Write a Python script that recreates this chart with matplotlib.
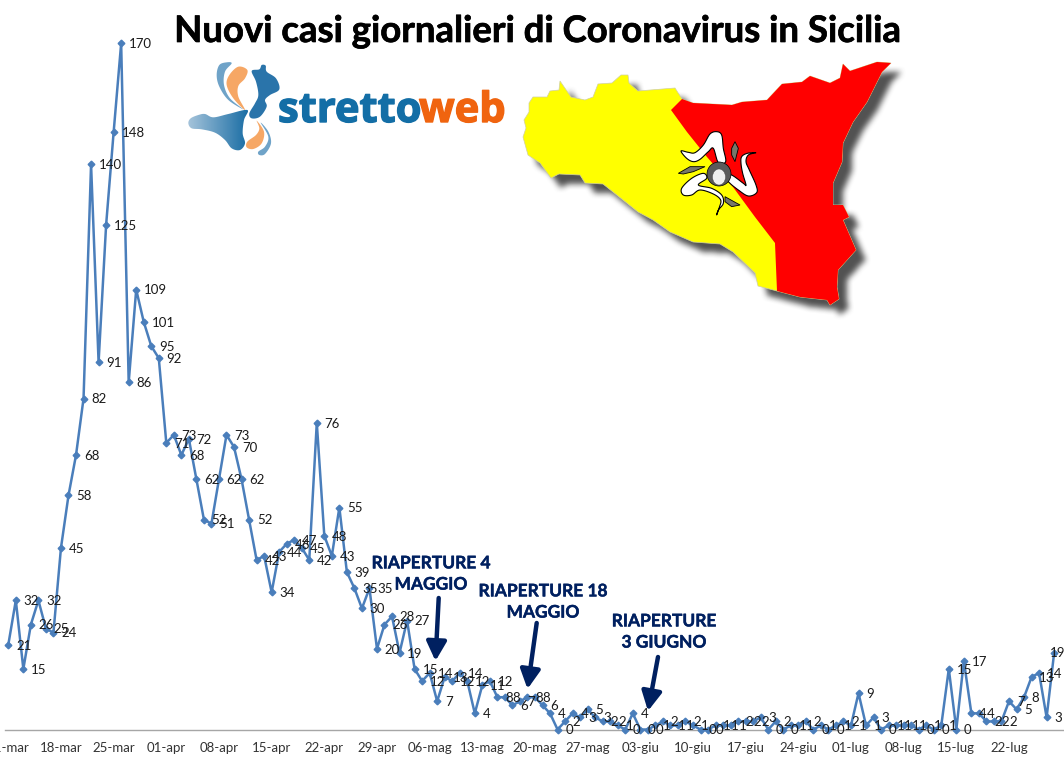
import numpy as np
import matplotlib as mpl
import matplotlib.pyplot as plt
import matplotlib.patheffects as pe
from matplotlib.patches import Polygon, Circle, Ellipse, FancyArrowPatch
from matplotlib.path import Path

mpl.rcParams['font.family'] = ['Lato', 'DejaVu Sans']

W, H = 1064, 762
LINE_COLOR = '#4a7ebb'
NAVY = '#002060'

# nuovi casi al giorno, dal 11-mar al 28-lug
cases = [21, 32, 15, 26, 32, 25, 24, 45, 58, 68, 82, 140, 91, 125, 148, 170, 86, 109, 101, 95,
         92, 71, 73, 68, 72, 62, 52, 51, 62, 73, 70, 62, 52, 42, 43, 34, 44, 46, 47, 45,
         42, 76, 48, 43, 55, 39, 35, 30, 35, 20, 26, 28, 19, 27, 15, 12, 14, 7, 13, 12,
         14, 12, 4, 11, 12, 8, 8, 6, 7, 8, 8, 6, 4, 0, 2, 4, 3, 5, 3, 2,
         2, 1, 0, 4, 0, 0, 1, 2, 1, 1, 2, 1, 0, 0, 1, 1, 1, 2, 2, 2,
         3, 0, 2, 0, 1, 1, 2, 0, 1, 0, 1, 2, 1, 9, 1, 3, 0, 1, 1, 1,
         1, 0, 1, 0, 1, 15, 0, 17, 4, 4, 2, 2, 2, 7, 5, 8, 13, 14, 3, 19]
tick_labels = ['11-mar', '18-mar', '25-mar', '01-apr', '08-apr', '15-apr', '22-apr', '29-apr',
               '06-mag', '13-mag', '20-mag', '27-mag', '03-giu', '10-giu', '17-giu', '24-giu',
               '01-lug', '08-lug', '15-lug', '22-lug']
reopenings = ['RIAPERTURE 4\nMAGGIO', 'RIAPERTURE 18\nMAGGIO', 'RIAPERTURE\n3 GIUGNO']

# map outline, in pixels of the picture
sicily = [(524, 120), (529, 112), (529, 103), (533, 97), (547, 97), (550, 91), (559, 90), (560, 81),
          (571, 97), (585, 100), (593, 97), (598, 84), (612, 83), (621, 75), (628, 75), (629, 83),
          (638, 91), (675, 88), (682, 99), (693, 103), (732, 105), (742, 102), (767, 100), (782, 84),
          (802, 82), (810, 76), (830, 83), (840, 78), (843, 64), (850, 71), (877, 62), (891, 63),
          (882, 72), (867, 102), (853, 122), (843, 143), (842, 162), (833, 183), (833, 205), (843, 205),
          (849, 217), (843, 220), (856, 250), (838, 270), (837, 287), (839, 299), (830, 305), (827, 300),
          (800, 297), (777, 291), (758, 286), (755, 273), (733, 252), (720, 244), (693, 242), (670, 232),
          (653, 220), (638, 212), (628, 204), (603, 184), (585, 183), (580, 175), (559, 174), (551, 178),
          (540, 163), (528, 155), (523, 137), (526, 128)]
sicily_red = [(682, 99), (693, 103), (732, 105), (742, 102), (767, 100), (782, 84),
              (802, 82), (810, 76), (830, 83), (840, 78), (843, 64), (850, 71), (877, 62), (891, 63),
              (882, 72), (867, 102), (853, 122), (843, 143), (842, 162), (833, 183), (833, 205), (843, 205),
              (849, 217), (843, 220), (856, 250), (838, 270), (837, 287), (839, 299), (830, 305), (827, 300),
              (800, 297), (777, 291), (775, 243), (755, 217), (733, 187), (707, 157), (687, 132), (671, 110)]

# triskelion, measured on a 3x crop with corner at (660, 120)
leg_top = [(63, 93), (85, 97), (105, 98), (130, 75), (150, 42), (170, 35), (185, 45), (190, 85), (197, 125),
           (175, 128), (160, 85), (145, 95), (120, 118), (100, 125), (80, 115)]
leg_right = [(288, 98), (265, 105), (258, 125), (268, 150), (288, 195), (290, 218), (265, 228), (235, 210),
             (205, 185), (195, 165), (215, 165), (250, 190), (258, 195), (248, 160), (243, 130), (245, 110),
             (262, 100)]
leg_left = [(170, 285), (178, 262), (182, 240), (160, 222), (120, 210), (95, 225), (70, 225), (65, 205),
            (95, 175), (130, 160), (140, 175), (115, 195), (155, 205), (185, 225), (190, 250), (175, 270)]
ear_left = [(55, 160), (90, 140), (135, 140), (100, 155), (70, 162)]
ear_top = [(215, 85), (225, 65), (235, 85), (225, 125), (215, 105)]
ear_bottom = [(195, 230), (240, 255), (215, 260), (195, 245)]

# logo, measured on a 3x crop with corner at (170, 0)
logo_island = [(55, 370), (62, 355), (85, 345), (105, 342), (130, 352), (175, 342), (232, 330), (222, 360),
               (218, 400), (225, 430), (210, 450), (185, 445), (165, 420), (135, 398), (95, 388), (65, 385)]
logo_calabria = [(245, 213), (268, 208), (275, 195), (287, 197), (290, 215), (318, 235), (328, 268), (300, 285),
                 (285, 300), (290, 320), (270, 350), (245, 355), (238, 340), (255, 310), (265, 285), (258, 245)]
logo_orange_top = [(178, 225), (205, 200), (232, 210), (225, 235), (205, 258), (205, 290), (225, 330),
                   (190, 295), (170, 255)]
logo_blue_top = [(148, 195), (170, 187), (185, 190), (165, 215), (162, 255), (180, 295), (220, 328),
                 (175, 300), (148, 260), (140, 225)]
logo_orange_low = [(260, 362), (282, 395), (275, 430), (250, 447), (230, 442), (232, 425), (258, 405), (268, 385)]
logo_blue_low = [(272, 368), (295, 395), (303, 430), (285, 462), (268, 465), (265, 455), (285, 440), (295, 410)]


def from_crop(points, corner):
    return np.array(points) / 3.0 + np.array(corner)


def smooth(points, n=8):
    # closed Catmull-Rom through the outline points
    p = np.asarray(points, dtype=float)
    out = []
    for i in range(len(p)):
        p0, p1, p2, p3 = p[i - 1], p[i], p[(i + 1) % len(p)], p[(i + 2) % len(p)]
        for t in np.linspace(0, 1, n, endpoint=False):
            out.append(0.5 * (2 * p1 + (p2 - p0) * t + (2 * p0 - 5 * p1 + 4 * p2 - p3) * t ** 2
                              + (3 * p1 - p0 - 3 * p2 + p3) * t ** 3))
    return np.array(out)


def box_blur(mask, r):
    kernel = np.ones(2 * r + 1) / (2 * r + 1)
    for _ in range(2):
        mask = np.apply_along_axis(np.convolve, 0, mask, kernel, mode='same')
        mask = np.apply_along_axis(np.convolve, 1, mask, kernel, mode='same')
    return mask


fig = plt.figure(figsize=(W / 100, H / 100), dpi=100)
fig.patch.set_facecolor('white')

# axes fill the figure, limits chosen so the scale falls where it does in the picture
ax = fig.add_axes([0, 0, 1, 1])
px_per_day = 7.524
px_per_case = 4.036
ax.set_xlim(-8.3 / px_per_day, (W - 8.3) / px_per_day)
ax.set_ylim((729.5 - H) / px_per_case, 729.5 / px_per_case)

days = np.arange(len(cases))
ax.plot(days, cases, color=LINE_COLOR, lw=1.8, marker='D', ms=3.4, mec=LINE_COLOR, zorder=3)

for day, value in zip(days, cases):
    dx = 5.6
    dy = -0.6
    if day == days[-1]:
        dx = -3
        dy = 0
    ax.annotate(str(value), (day, value), xytext=(dx, dy), textcoords='offset points',
                ha='left', va='center', fontsize=9.5, color='#1a1a1a', zorder=4)

for side in ['top', 'left', 'right']:
    ax.spines[side].set_visible(False)
ax.spines['bottom'].set_position(('data', 0))
ax.spines['bottom'].set_color('#a6a6a6')
ax.spines['bottom'].set_linewidth(1.0)
ax.spines['bottom'].set_bounds(-0.4, 141)
ax.set_yticks([])
ax.set_xticks(days[::7])
ax.set_xticklabels(tick_labels, fontsize=9.5, color='#333333')
ax.tick_params(axis='x', length=0, pad=9)

# overlay in picture pixels for map, logo and notes
top = fig.add_axes([0, 0, 1, 1], zorder=5)
top.axis('off')

# soft shadow under the map
xs, ys = np.meshgrid(np.arange(505, 925), np.arange(45, 335))
grid = np.column_stack([xs.ravel(), ys.ravel()])
mask = Path(np.array(sicily) + 9).contains_points(grid).reshape(xs.shape).astype(float)
mask = box_blur(mask, 3)
shadow = np.zeros(mask.shape + (4,))
shadow[..., :3] = 0.2
shadow[..., 3] = mask * 0.85
top.imshow(shadow, extent=(505, 925, 335, 45), interpolation='bilinear', aspect='auto', zorder=1)

top.add_patch(Polygon(sicily, closed=True, fc='#ffff00', ec='#d0d0a0', lw=0.5, zorder=2))
top.add_patch(Polygon(sicily_red, closed=True, fc='#ff0000', ec='none', zorder=2))

corner = (660, 120)
for ear in [ear_left, ear_top, ear_bottom]:
    top.add_patch(Polygon(from_crop(ear, corner), closed=True, fc='#77776a', ec='black', lw=0.6, zorder=3))
for leg in [leg_top, leg_right, leg_left]:
    top.add_patch(Polygon(smooth(from_crop(leg, corner)), closed=True, fc='white', ec='black', lw=0.8, zorder=3))
top.add_patch(Circle((719, 174), 12, fc='#5a5a5a', ec='black', lw=0.5, zorder=3))
top.add_patch(Ellipse((719, 177), 13, 16, fc='#efefef', ec='#444444', lw=0.3, zorder=3))

# logo
corner = (170, 0)
gradient = np.linspace(0, 1, 64).reshape(1, -1)
blues = mpl.colors.LinearSegmentedColormap.from_list('logo', ['#a9c6dc', '#1b6ea5'])
img = top.imshow(gradient, extent=(186, 248, 152, 108), cmap=blues, aspect='auto', zorder=2)
img.set_clip_path(Polygon(smooth(from_crop(logo_island, corner)), closed=True, transform=top.transData))
top.add_patch(Polygon(smooth(from_crop(logo_calabria, corner)), closed=True, fc='#2a74aa', ec='none', zorder=2))
top.add_patch(Polygon(smooth(from_crop(logo_blue_top, corner)), closed=True, fc='#6fa3c8', ec='none', zorder=2))
top.add_patch(Polygon(smooth(from_crop(logo_orange_top, corner)), closed=True, fc='#f6a765', ec='none', zorder=2))
top.add_patch(Polygon(smooth(from_crop(logo_blue_low, corner)), closed=True, fc='#6fa3c8', ec='none', zorder=2))
top.add_patch(Polygon(smooth(from_crop(logo_orange_low, corner)), closed=True, fc='#f6a765', ec='none', zorder=2))
thick = [pe.withStroke(linewidth=1.0, foreground='#136ea6')]
top.text(278, 122, 'stretto', color='#136ea6', fontsize=30, family='Open Sans', fontweight='bold',
         ha='left', va='baseline', path_effects=thick)
thick = [pe.withStroke(linewidth=1.0, foreground='#f0640f')]
top.text(419, 122, 'web', color='#f0640f', fontsize=30, family='Open Sans', fontweight='bold',
         ha='left', va='baseline', path_effects=thick)

top.set_xlim(0, W)
top.set_ylim(H, 0)

top.text(537, 42, 'Nuovi casi giornalieri di Coronavirus in Sicilia', fontsize=26.3,
         fontweight='bold', color='black', ha='center', va='baseline',
         path_effects=[pe.withStroke(linewidth=0.5, foreground='black')])

# reopening notes
note_pos = [(431, 574), (543, 602), (664, 632)]
arrows = [((438.7, 598), (435.5, 661)), ((536.7, 623), (527.5, 689)), ((658, 657), (648, 711))]
for note, (x, y), (tail, tip) in zip(reopenings, note_pos, arrows):
    top.text(x, y, note, color=NAVY, fontsize=12.5, fontweight='bold', ha='center', va='center',
             linespacing=1.4, path_effects=[pe.withStroke(linewidth=0.3, foreground=NAVY)])
    top.add_patch(FancyArrowPatch(tail, tip, arrowstyle='-|>,head_length=4.6,head_width=2.4',
                                  mutation_scale=2.5, color=NAVY, lw=3.2, shrinkA=0, shrinkB=0))

fig.savefig('out.png', dpi=100)
